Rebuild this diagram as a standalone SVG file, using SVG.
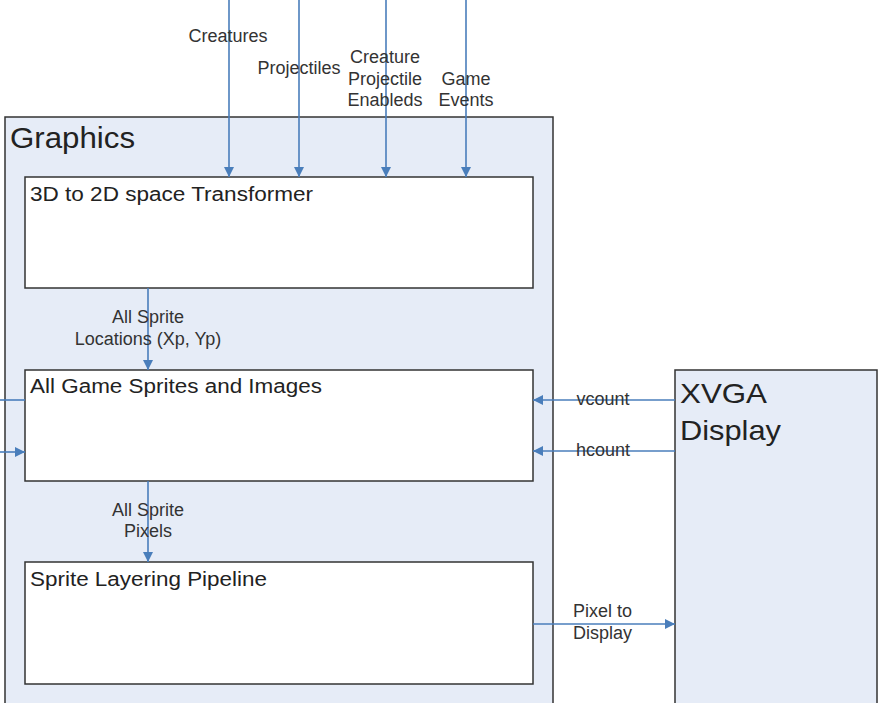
<svg xmlns="http://www.w3.org/2000/svg" width="882" height="703" viewBox="0 0 882 703">
  <defs>
    <marker id="arrow" viewBox="0 0 10 10" refX="10" refY="5" markerWidth="11" markerHeight="10" markerUnits="userSpaceOnUse" orient="auto">
      <path d="M0,0 L10,5 L0,10 z" fill="#4A7EBB"/>
    </marker>
    <style>
      .container { fill: #E6ECF7; stroke: #333333; stroke-width: 1.5; }
      .block { fill: #FFFFFF; stroke: #333333; stroke-width: 1.5; }
      .title { font-family: "Liberation Sans", Arial, sans-serif; fill: #222222; }
      .label { font-family: "Liberation Sans", Arial, sans-serif; font-size: 18px; fill: #333333; text-anchor: middle; }
      .label-start { font-family: "Liberation Sans", Arial, sans-serif; font-size: 18px; fill: #333333; }
      .wire { stroke: #4A7EBB; stroke-width: 1.6; fill: none; }
      .wire-arrow { stroke: #4A7EBB; stroke-width: 1.6; fill: none; marker-end: url(#arrow); }
    </style>
  </defs>

  <rect width="882" height="703" fill="#FFFFFF"/>

  <!-- Graphics subsystem -->
  <g id="graphics">
    <rect class="container" x="5" y="117" width="548" height="600"/>
    <text class="title" x="10" y="148" font-size="29" textLength="125" lengthAdjust="spacingAndGlyphs">Graphics</text>
  </g>

  <g id="transformer">
    <rect class="block" x="25" y="177" width="508" height="111"/>
    <text class="title" x="30" y="201" font-size="20" textLength="283" lengthAdjust="spacingAndGlyphs">3D to 2D space Transformer</text>
  </g>

  <g id="sprites">
    <rect class="block" x="25" y="370" width="508" height="111"/>
    <text class="title" x="30" y="393" font-size="20" textLength="292" lengthAdjust="spacingAndGlyphs">All Game Sprites and Images</text>
  </g>

  <g id="layering">
    <rect class="block" x="25" y="562" width="508" height="122"/>
    <text class="title" x="30" y="586" font-size="20" textLength="237" lengthAdjust="spacingAndGlyphs">Sprite Layering Pipeline</text>
  </g>

  <!-- Display -->
  <g id="xvga">
    <rect class="container" x="675" y="370" width="202" height="350"/>
    <text class="title" x="680" y="403" font-size="28" textLength="87" lengthAdjust="spacingAndGlyphs">XVGA</text>
    <text class="title" x="680" y="440" font-size="28" textLength="101" lengthAdjust="spacingAndGlyphs">Display</text>
  </g>

  <!-- Connectors -->
  <g id="connectors">
    <line class="wire-arrow" x1="229" y1="0" x2="229" y2="177"/>
    <line class="wire-arrow" x1="299" y1="0" x2="299" y2="177"/>
    <line class="wire-arrow" x1="386" y1="0" x2="386" y2="177"/>
    <line class="wire-arrow" x1="466" y1="0" x2="466" y2="177"/>

    <line class="wire-arrow" x1="148" y1="288" x2="148" y2="370"/>
    <line class="wire-arrow" x1="148" y1="481" x2="148" y2="562"/>

    <line class="wire" x1="0" y1="400" x2="25" y2="400"/>
    <line class="wire-arrow" x1="0" y1="452" x2="25" y2="452"/>

    <line class="wire-arrow" x1="675" y1="400" x2="533" y2="400"/>
    <line class="wire-arrow" x1="675" y1="451" x2="533" y2="451"/>
    <line class="wire-arrow" x1="533" y1="624" x2="675" y2="624"/>
  </g>

  <!-- Connector labels -->
  <g id="labels">
    <text class="label" x="228" y="42">Creatures</text>
    <text class="label" x="299" y="74">Projectiles</text>
    <text class="label" x="385" y="63">Creature</text>
    <text class="label" x="385" y="85">Projectile</text>
    <text class="label" x="385" y="106">Enableds</text>
    <text class="label" x="466" y="85">Game</text>
    <text class="label" x="466" y="106">Events</text>

    <text class="label" x="148" y="323">All Sprite</text>
    <text class="label" x="148" y="345">Locations (Xp, Yp)</text>
    <text class="label" x="148" y="516">All Sprite</text>
    <text class="label" x="148" y="537">Pixels</text>

    <text class="label" x="603" y="405">vcount</text>
    <text class="label" x="603" y="456">hcount</text>
    <text class="label-start" x="573" y="617">Pixel to</text>
    <text class="label-start" x="573" y="639">Display</text>
  </g>
</svg>
